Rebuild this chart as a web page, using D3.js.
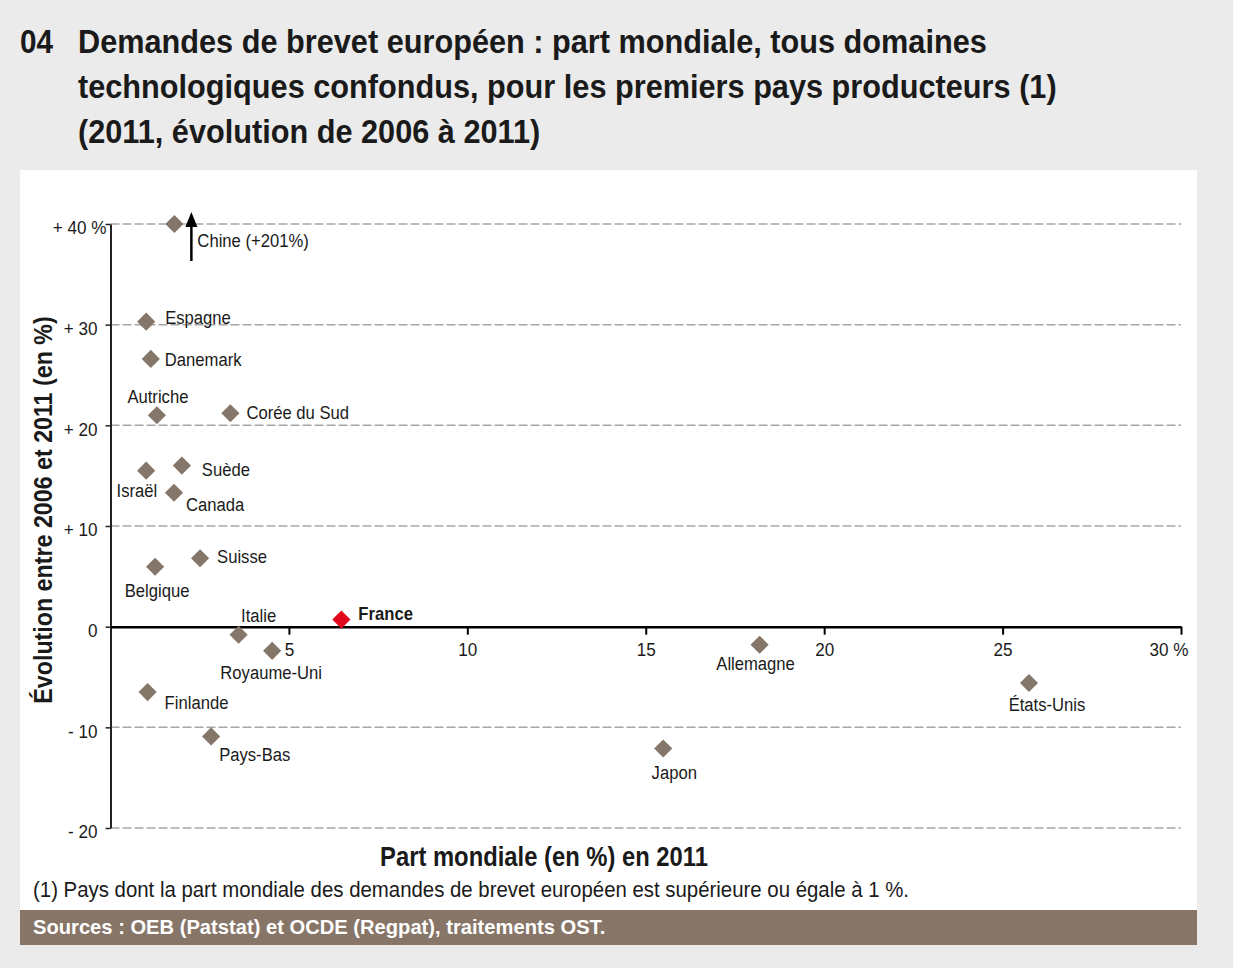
<!DOCTYPE html>
<html>
<head>
<meta charset="utf-8">
<script src="https://cdn.jsdelivr.net/npm/d3@7"></script>
<style>
  body { margin: 0; background: #ebebeb; }
  svg { display: block; }
  text { font-family: "Liberation Sans Narrow", "Arial Narrow", "Liberation Sans", Arial, sans-serif; fill: #1a1a1a; }
</style>
</head>
<body>
<svg></svg>
<script>
const width = 1233;
const height = 968;

// pays, part mondiale 2011 (%), evolution 2006-2011 (%)
const countries = ["Chine", "Espagne", "Danemark", "Autriche", "Corée du Sud", "Suède", "Israël", "Canada",
  "Suisse", "Belgique", "Italie", "France", "Royaume-Uni", "Finlande", "Pays-Bas", "Japon", "Allemagne", "États-Unis"];
const share2011 = [1.79, 1.0, 1.13, 1.3, 3.36, 2.0, 1.0, 1.78, 2.51, 1.25, 3.59, 6.47, 4.53, 1.04, 2.82, 15.49, 18.19, 25.74];
const growth = [201, 30.3, 26.6, 21.0, 21.2, 16.0, 15.5, 13.3, 6.8, 5.95, -0.8, 0.7, -2.4, -6.5, -10.9, -12.1, -1.8, -5.6];

const xTicks = [5, 10, 15, 20, 25, 30];
const xTickLabels = ["5", "10", "15", "20", "25", "30 %"];
const yTicks = [40, 30, 20, 10, 0, -10, -20];
const yTickLabels = ["+ 40 %", "+ 30", "+ 20", "+ 10", "0", "- 10", "- 20"];

// label placement relative to the marker: dx, dy, anchor
const labelPos = {
  "Chine": [23, 23, "start"],
  "Espagne": [19, 2, "start"],
  "Danemark": [14, 7, "start"],
  "Autriche": [1, -12, "middle"],
  "Corée du Sud": [16, 6, "start"],
  "Suède": [20, 10, "start"],
  "Israël": [11, 26, "end"],
  "Canada": [12, 18, "start"],
  "Suisse": [17, 5, "start"],
  "Belgique": [2, 30, "middle"],
  "Italie": [20, -13, "middle"],
  "France": [17, 0, "start"],
  "Royaume-Uni": [-1, 28, "middle"],
  "Finlande": [17, 17, "start"],
  "Pays-Bas": [8, 25, "start"],
  "Japon": [11, 31, "middle"],
  "Allemagne": [-4, 25, "middle"],
  "États-Unis": [18, 28, "middle"]
};

const data = countries.map((c, i) => ({name: c, x: share2011[i], y: growth[i]}));

// no condensed face installed: narrow the glyphs horizontally instead
function squeeze(sel, k) {
  sel.each(function() {
    const t = d3.select(this);
    const x = +t.attr("x") || 0, y = +t.attr("y") || 0;
    t.attr("x", null).attr("y", null)
      .attr("transform", `translate(${x},${y}) scale(${k},1)`);
  });
}

const svg = d3.select("svg")
  .attr("width", width)
  .attr("height", height);

// header
const title = svg.append("g");
title.append("text").attr("x", 20).attr("y", 53).attr("font-size", 33).style("font-weight", "bold").text("04")
  .call(squeeze, 0.9);
const titleLines = ["Demandes de brevet européen : part mondiale, tous domaines",
  "technologiques confondus, pour les premiers pays producteurs (1)",
  "(2011, évolution de 2006 à 2011)"];
title.selectAll("text.tl").data(titleLines).enter().append("text")
  .attr("class", "tl")
  .attr("x", 78)
  .attr("y", (d, i) => 53 + i * 45)
  .attr("font-size", 33)
  .style("font-weight", "bold")
  .text(d => d)
  .call(squeeze, 0.93);

// panel
svg.append("rect").attr("x", 20).attr("y", 170).attr("width", 1177).attr("height", 740).attr("fill", "#fff");
svg.append("rect").attr("x", 20).attr("y", 910).attr("width", 1177).attr("height", 35).attr("fill", "#877568");

const xScale = d3.scaleLinear().domain([0, 30]).range([110.5, 1181]);
const yScale = d3.scaleLinear().domain([-20, 40]).range([828, 224]).clamp(true);

// grid
svg.append("g").selectAll("line")
  .data(yTicks.filter(d => d !== 0)).enter().append("line")
  .attr("x1", xScale(0)).attr("x2", xScale(30))
  .attr("y1", d => yScale(d)).attr("y2", d => yScale(d))
  .attr("stroke", "#a6a6a6")
  .attr("stroke-width", 1.5)
  .attr("stroke-dasharray", "9,3");

// y axis
const yAxis = svg.append("g")
  .attr("transform", `translate(${xScale(0)},0)`)
  .call(d3.axisLeft(yScale).tickValues(yTicks).tickSize(5).tickSizeOuter(0).tickPadding(8)
    .tickFormat((d, i) => yTickLabels[i]));
yAxis.select(".domain").attr("stroke", "#222").attr("stroke-width", 2);
yAxis.selectAll(".tick line").attr("stroke", "#222").attr("stroke-width", 1.5);
yAxis.selectAll(".tick text")
  .attr("font-size", 19)
  .attr("font-family", null)
  .attr("dy", "0.52em")
  .attr("x", d => d === 40 ? -4 : -13)
  .call(squeeze, 0.9);

// x axis on zero line
const xAxis = svg.append("g")
  .attr("transform", `translate(0,${yScale(0)})`)
  .call(d3.axisBottom(xScale).tickValues(xTicks).tickSize(8).tickSizeOuter(0).tickPadding(8)
    .tickFormat((d, i) => xTickLabels[i]));
xAxis.select(".domain").attr("stroke", "#000").attr("stroke-width", 2.5);
xAxis.selectAll(".tick line").attr("stroke", "#000").attr("stroke-width", 2);
xAxis.selectAll(".tick text")
  .attr("font-size", 19)
  .attr("font-family", null)
  .attr("text-anchor", d => d === 30 ? "end" : "middle")
  .attr("x", d => d === 30 ? 7 : 0)
  .call(squeeze, 0.9);
svg.selectAll(".tick text").attr("fill", "#1a1a1a");

// arrow for off-scale value
const arrowData = data.filter(d => d.y > 40);
svg.selectAll("line.arrow").data(arrowData).enter().append("line")
  .attr("class", "arrow")
  .attr("x1", d => xScale(d.x) + 17).attr("x2", d => xScale(d.x) + 17)
  .attr("y1", d => yScale(d.y) + 37).attr("y2", d => yScale(d.y) - 1)
  .attr("stroke", "#000").attr("stroke-width", 2.5);
svg.selectAll("path.arrowhead").data(arrowData).enter().append("path")
  .attr("class", "arrowhead")
  .attr("d", d => {
    const ax = xScale(d.x) + 17, ay = yScale(d.y) - 12;
    return `M${ax},${ay} L${ax - 6},${ay + 15} L${ax + 6},${ay + 15} Z`;
  })
  .attr("fill", "#000");

// markers
const diamond = d3.symbol().type(d3.symbolSquare).size(165);
svg.selectAll("path.pt").data(data).enter().append("path")
  .attr("class", "pt")
  .attr("d", diamond)
  .attr("transform", d => `translate(${xScale(d.x)},${yScale(d.y)}) rotate(45)`)
  .attr("fill", d => d.name === "France" ? "#e2061b" : "#85766a");

// labels
svg.selectAll("text.lbl").data(data).enter().append("text")
  .attr("class", "lbl")
  .attr("x", d => xScale(d.x) + labelPos[d.name][0])
  .attr("y", d => yScale(d.y) + labelPos[d.name][1])
  .attr("text-anchor", d => labelPos[d.name][2])
  .attr("font-size", 18.5)
  .style("font-weight", d => d.name === "France" ? "bold" : "normal")
  .text(d => d.name === "Chine" ? "Chine (+" + d.y + "%)" : d.name)
  .call(squeeze, 0.9);

// axis titles
svg.append("text")
  .attr("transform", "translate(52,510) rotate(-90) scale(0.93,1)")
  .attr("text-anchor", "middle")
  .attr("font-size", 25)
  .style("font-weight", "bold")
  .text("Évolution entre 2006 et 2011 (en %)");
svg.append("text")
  .attr("x", 544).attr("y", 866)
  .attr("text-anchor", "middle")
  .attr("font-size", 28)
  .style("font-weight", "bold")
  .text("Part mondiale (en %) en 2011")
  .call(squeeze, 0.85);

// notes
svg.append("text")
  .attr("x", 33).attr("y", 897)
  .attr("font-size", 22)
  .text("(1) Pays dont la part mondiale des demandes de brevet européen est supérieure ou égale à 1 %.")
  .call(squeeze, 0.927);
svg.append("text")
  .attr("x", 33).attr("y", 934)
  .attr("font-size", 21)
  .style("font-weight", "bold")
  .style("fill", "#fff")
  .text("Sources : OEB (Patstat) et OCDE (Regpat), traitements OST.")
  .call(squeeze, 0.96);
</script>
</body>
</html>
